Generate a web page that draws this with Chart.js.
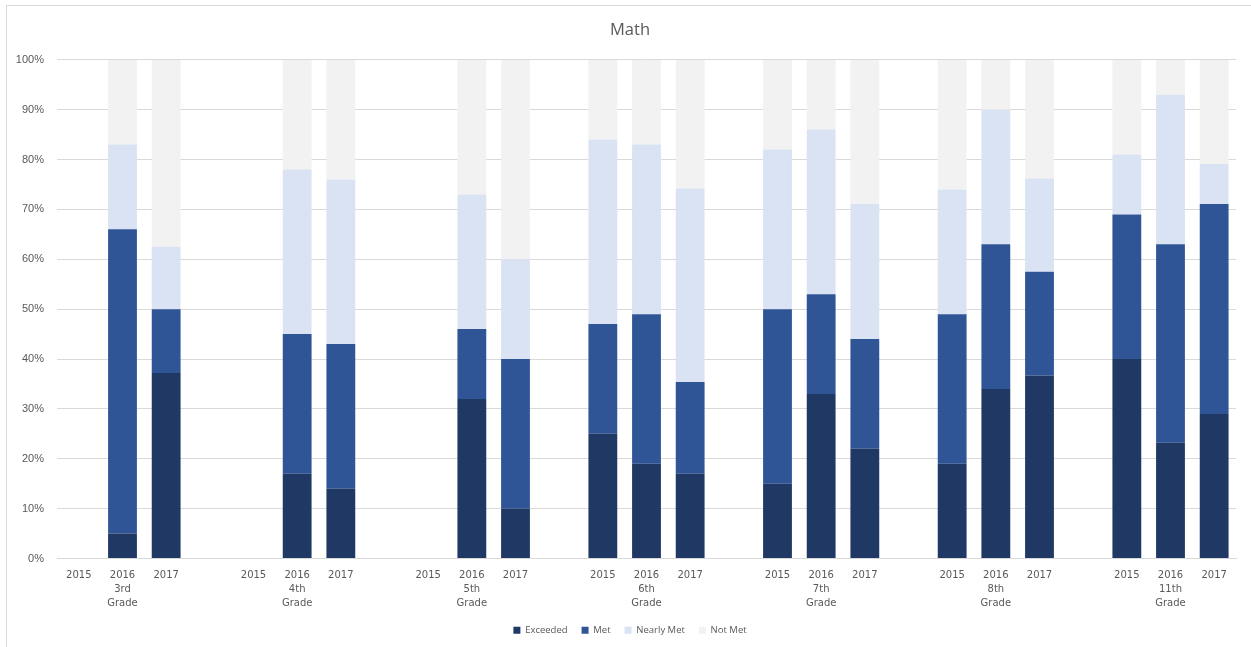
<!DOCTYPE html>
<html>
<head>
<meta charset="utf-8">
<script src="https://cdn.jsdelivr.net/npm/chart.js@4"></script>
<style>
  html, body { margin: 0; padding: 0; background: #ffffff; overflow: hidden; }
  #wrap { position: absolute; left: 0; top: 0; width: 1251px; height: 647px; }
  #frame { position: absolute; left: 6px; top: 5px; width: 1260px; height: 660px; border-left: 1px solid #d9d9d9; border-top: 1px solid #d9d9d9; box-sizing: border-box; pointer-events: none; }
</style>
</head>
<body>
<div id="wrap"><canvas id="c" width="1251" height="647"></canvas></div>
<div id="frame"></div>
<script>
const grades = ['3rd Grade', '4th Grade', '5th Grade', '6th Grade', '7th Grade', '8th Grade', '11th Grade'];
const years = ['2015', '2016', '2017'];
const yTicks = [0, 10, 20, 30, 40, 50, 60, 70, 80, 90, 100];

// values per grade, in order 2015, 2016, 2017 (null = no data)
const exceeded = [null, 5, 37.2,  null, 17, 14,  null, 32, 10,  25, 19, 17,    15, 33, 22,    19, 34, 36.7,  40, 23.2, 29];
const met      = [null, 61, 12.8, null, 28, 29,  null, 14, 30,  22, 30, 18.4,  35, 20, 22,    30, 29, 20.8,  29, 39.8, 42.1];
const nearly   = [null, 17, 12.5, null, 33, 33,  null, 27, 20,  37, 34, 38.8,  32, 33, 27.1,  25, 27, 18.7,  12, 30, 8];
const notMet   = [null, 17, 37.5, null, 22, 24,  null, 27, 40,  16, 17, 25.8,  18, 14, 28.9,  26, 10, 23.8,  19, 7, 20.9];

// build category labels (with an empty separator category between grades)
const labels = [];
const idx = [];
grades.forEach((g, gi) => {
  years.forEach((y, yi) => {
    if (yi === 1) {
      const parts = g.split(' ');
      labels.push([y, parts[0], parts[1]]);
    } else {
      labels.push(y);
    }
    idx.push(gi * 3 + yi);
  });
  if (gi < grades.length - 1) { labels.push(''); idx.push(-1); }
});
const expand = arr => idx.map(i => (i < 0 ? null : arr[i]));

const series = [
  { label: 'Exceeded',   data: exceeded, color: '#203864' },
  { label: 'Met',        data: met,      color: '#2f5597' },
  { label: 'Nearly Met', data: nearly,   color: '#dae3f3' },
  { label: 'Not Met',    data: notMet,   color: '#f2f2f2' }
];

new Chart(document.getElementById('c'), {
  type: 'bar',
  data: {
    labels: labels,
    datasets: series.map(s => ({
      label: s.label,
      data: expand(s.data),
      backgroundColor: s.color,
      borderWidth: 0,
      categoryPercentage: 1,
      barPercentage: 0.66
    }))
  },
  options: {
    responsive: false,
    animation: false,
    devicePixelRatio: 1,
    layout: { padding: { left: 9, right: 0, top: 0, bottom: 2 } },
    plugins: {
      title: {
        display: true,
        text: 'Math',
        color: '#595959',
        font: { family: 'Open Sans', size: 16.5, weight: 'normal' },
        padding: { top: 20, bottom: 20 }
      },
      legend: {
        display: true,
        position: 'bottom',
        labels: {
          color: '#595959',
          font: { family: 'Open Sans', size: 9.5 },
          boxWidth: 7,
          boxHeight: 7,
          padding: 14
        }
      },
      tooltip: { enabled: false }
    },
    scales: {
      x: {
        stacked: true,
        afterFit: s => { s.height -= 9; },
        grid: { display: false, drawTicks: false },
        border: { display: true, color: '#d9d9d9' },
        ticks: {
          color: '#595959',
          font: { family: 'DejaVu Sans', size: 10, lineHeight: 1.4 },
          maxRotation: 0,
          autoSkip: false,
          padding: 10
        }
      },
      y: {
        stacked: true,
        min: 0,
        max: 100,
        afterFit: s => { s.width = 48; },
        afterBuildTicks: s => { s.ticks = yTicks.map(v => ({ value: v })); },
        grid: { color: '#d9d9d9', drawTicks: false },
        border: { display: false },
        ticks: {
          color: '#595959',
          font: { family: 'Liberation Sans', size: 11 },
          padding: 13,
          callback: v => v + '%'
        }
      },
      yRight: {
        position: 'right',
        display: true,
        min: 0,
        max: 100,
        afterFit: s => { s.width = 15; },
        grid: { display: false, drawTicks: false },
        border: { display: false },
        ticks: { display: false }
      }
    }
  }
});
</script>
</body>
</html>
